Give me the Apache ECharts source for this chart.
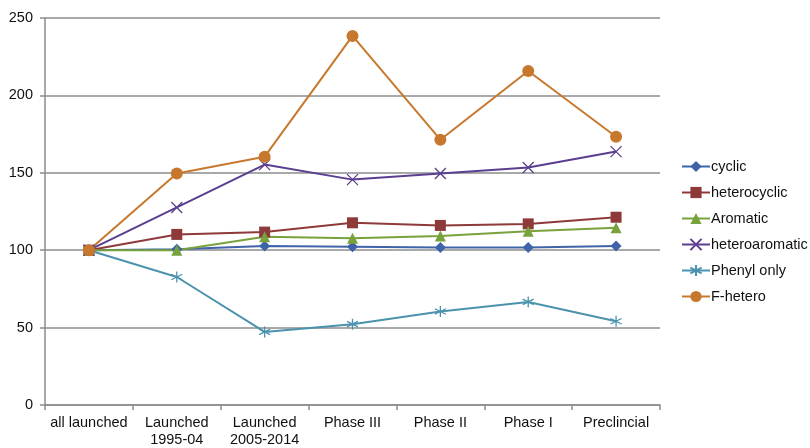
<!DOCTYPE html>
<html>
<head>
<meta charset="utf-8">
<script src="https://cdn.jsdelivr.net/npm/echarts@6/dist/echarts.min.js"></script>
<style>
  html, body { margin: 0; padding: 0; background: #fff; }
  #chart { width: 810px; height: 448px; }
</style>
</head>
<body>
<div id="chart"></div>
<script>
// Stage categories along the x axis
const categories = ['all launched', 'Launched\n1995-04', 'Launched\n2005-2014', 'Phase III', 'Phase II', 'Phase I', 'Preclincial'];

// Index values per stage (all launched = 100)
const cyclic        = [100, 100.6, 102.7, 102.3, 101.7, 101.7, 102.7];
const heterocyclic  = [100, 110.2, 111.7, 117.7, 116.0, 117.0, 121.3];
const aromatic      = [100, 100.0, 108.7, 107.8, 109.1, 112.3, 114.5];
const heteroaromatic= [100, 127.6, 155.3, 145.6, 149.5, 153.4, 163.7];
const phenylOnly    = [100, 82.7, 47.2, 52.2, 60.4, 66.6, 54.1];
const fHetero       = [100, 149.5, 160.4, 238.4, 171.4, 215.8, 173.3];

const yTicks = { min: 0, max: 250, interval: 50 };

const crossSymbol = 'path://M0,0L10,10M10,0L0,10';
const starSymbol = 'path://M5,0L5,10M0.7,2.5L9.3,7.5M9.3,2.5L0.7,7.5';

function lineSeries(name, data, color, symbol, size, stroke) {
  return {
    name: name,
    type: 'line',
    data: data,
    symbol: symbol,
    symbolSize: size,
    showAllSymbol: true,
    lineStyle: { color: color, width: 2 },
    itemStyle: stroke
      ? { color: 'transparent', borderColor: color, borderWidth: 1.3 }
      : { color: color, borderColor: color, borderWidth: 0 },
    emphasis: { disabled: true },
    z: 2
  };
}

const chart = echarts.init(document.getElementById('chart'), null, { renderer: 'canvas' });
chart.setOption({
  animation: false,
  backgroundColor: '#fff',
  textStyle: { fontFamily: 'Liberation Sans, Arial, sans-serif' },
  grid: { left: 45, right: 150, top: 18, bottom: 42, containLabel: false },
  legend: {
    orient: 'vertical',
    left: 676,
    top: 154,
    itemWidth: 28,
    itemHeight: 14,
    itemGap: 11,
    textStyle: { color: '#111', fontSize: 14.5, fontFamily: 'Liberation Sans, Arial, sans-serif', padding: [0, 0, 0, -4] },
    data: ['cyclic', 'heterocyclic', 'Aromatic', 'heteroaromatic', 'Phenyl only', 'F-hetero']
  },
  xAxis: {
    type: 'category',
    data: categories,
    boundaryGap: true,
    axisLine: { lineStyle: { color: '#8c8c8c', width: 1.5 } },
    axisTick: { show: true, length: 5, lineStyle: { color: '#8c8c8c', width: 1.5 } },
    axisLabel: { color: '#111', fontSize: 14.5, lineHeight: 17, margin: 9, interval: 0 },
    splitLine: { show: false }
  },
  yAxis: {
    type: 'value',
    min: yTicks.min,
    max: yTicks.max,
    interval: yTicks.interval,
    axisLine: { show: true, lineStyle: { color: '#8c8c8c', width: 1.5 } },
    axisTick: { show: true, length: 5, lineStyle: { color: '#8c8c8c', width: 1.5 } },
    axisLabel: { color: '#111', fontSize: 14.5, margin: 12 },
    splitLine: { show: true, lineStyle: { color: '#8c8c8c', width: 1.5 } }
  },
  series: [
    lineSeries('cyclic', cyclic, '#3F63A8', 'diamond', 11, false),
    lineSeries('heterocyclic', heterocyclic, '#8E3A3A', 'rect', 11, false),
    lineSeries('Aromatic', aromatic, '#78A23C', 'triangle', 11, false),
    lineSeries('heteroaromatic', heteroaromatic, '#5B3E8F', crossSymbol, 11, true),
    lineSeries('Phenyl only', phenylOnly, '#4B93AD', starSymbol, 11, true),
    lineSeries('F-hetero', fHetero, '#C8782C', 'circle', 12, false)
  ]
});
</script>
</body>
</html>
